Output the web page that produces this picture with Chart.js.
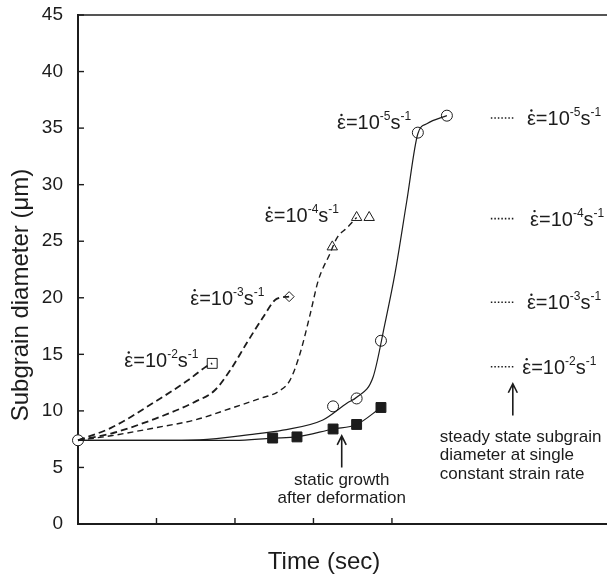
<!DOCTYPE html>
<html>
<head>
<meta charset="utf-8">
<script src="https://cdn.jsdelivr.net/npm/chart.js@4.4.1/dist/chart.umd.min.js"></script>
<style>
  html, body { margin: 0; padding: 0; background: #fff; }
  #wrap { width: 607px; height: 576px; }
</style>
</head>
<body>
<div id="wrap"><canvas id="chart" width="607" height="576"></canvas></div>
<script>
// tick values
const xTickValues = [0, 1, 2, 3, 4];
const yTickStep = 5;

// start point (common to all curves)
const startX = [0];
const startY = [7.4];

// fitted curves
const rate2X = [0, 0.42, 0.98, 1.40, 1.63, 1.71];
const rate2Y = [7.4, 8.5, 10.8, 12.7, 13.9, 14.2];
const rate3X = [0, 0.42, 0.98, 1.49, 1.74, 1.94, 2.15, 2.36, 2.53, 2.69];
const rate3Y = [7.4, 8.0, 9.3, 10.8, 11.8, 13.6, 16.0, 18.3, 19.9, 20.1];
const rate4X = [0, 0.42, 0.98, 1.49, 1.98, 2.32, 2.55, 2.70, 2.83, 2.96, 3.06, 3.21, 3.30, 3.43, 3.55];
const rate4Y = [7.4, 7.8, 8.5, 9.2, 10.3, 11.1, 11.7, 12.7, 15.1, 18.6, 21.5, 23.9, 25.3, 26.2, 27.1];
const rate5X = [0, 1.0, 1.55, 2.19, 2.61, 3.12, 3.43, 3.55, 3.76, 3.91, 4.04, 4.19, 4.33, 4.45, 4.70];
const rate5Y = [7.4, 7.4, 7.45, 7.9, 8.3, 9.2, 10.7, 11.2, 13.0, 17.7, 22.2, 28.6, 34.5, 35.4, 36.1];
const staticX = [0, 1.5, 2.0, 2.48, 2.79, 3.25, 3.55, 3.86];
const staticY = [7.4, 7.4, 7.4, 7.6, 7.7, 8.4, 8.8, 10.3];

// measured points
const rate2MarkX = [1.71];
const rate2MarkY = [14.2];
const rate3MarkX = [2.69];
const rate3MarkY = [20.1];
const rate4MarkX = [3.24, 3.55, 3.71];
const rate4MarkY = [24.5, 27.1, 27.1];
const rate5MarkX = [3.25, 3.55, 3.86, 4.33, 4.70];
const rate5MarkY = [10.4, 11.1, 16.2, 34.6, 36.1];
const staticMarkX = [2.48, 2.79, 3.25, 3.55, 3.86];
const staticMarkY = [7.6, 7.7, 8.4, 8.8, 10.3];

// steady state subgrain diameters (dotted marks at right)
const rateExps = ['-2', '-3', '-4', '-5'];
const steadyY = [13.9, 19.6, 27.0, 35.9];
const steadyDotX = [5.26, 5.56];

const FONT = '"Liberation Sans", Arial, sans-serif';
const INK = '#1c1c1c';

function pts(xs, ys) {
    return xs.map((x, i) => ({ x: x, y: ys[i] }));
}

function curve(xs, ys, dash, width) {
    return {
        data: pts(xs, ys),
        showLine: true,
        borderColor: INK,
        borderWidth: width,
        borderDash: dash,
        pointRadius: 0,
        cubicInterpolationMode: 'monotone',
        clip: false
    };
}

function marks(xs, ys, style, radius, fill) {
    return {
        data: pts(xs, ys),
        showLine: false,
        pointStyle: style,
        pointRadius: radius,
        pointBorderColor: INK,
        pointBackgroundColor: fill,
        pointBorderWidth: 1,
        clip: false
    };
}

const datasets = [
    curve(rate2X, rate2Y, [7, 4], 1.8),
    curve(rate3X, rate3Y, [7, 4], 1.8),
    curve(rate4X, rate4Y, [6, 4], 1.4),
    curve(rate5X, rate5Y, [], 1.2),
    curve(staticX, staticY, [], 1.2),
    marks(startX, startY, 'circle', 5.5, '#fff'),
    marks(rate2MarkX, rate2MarkY, 'rect', 7, '#fff'),
    marks(rate2MarkX, rate2MarkY, 'circle', 1, INK),
    marks(rate3MarkX, rate3MarkY, 'rectRot', 5, '#fff'),
    marks(rate4MarkX, rate4MarkY, 'triangle', 6, '#fff'),
    marks(rate5MarkX, rate5MarkY, 'circle', 5.5, '#fff'),
    marks(staticMarkX, staticMarkY, 'rect', 7, INK)
];

steadyY.forEach(function (v) {
    datasets.push({
        data: steadyDotX.map(x => ({ x: x, y: v })),
        showLine: true,
        borderColor: INK,
        borderWidth: 1.6,
        borderDash: [1.5, 2],
        pointRadius: 0,
        clip: false
    });
});

// label positions in data units (left edge, vertical centre)
const plotLabels = [
    { x: 0.59, y: 14.5, exp: rateExps[0] },
    { x: 1.43, y: 20.0, exp: rateExps[1] },
    { x: 2.38, y: 27.3, exp: rateExps[2] },
    { x: 3.30, y: 35.5, exp: rateExps[3] },
    { x: 5.66, y: steadyY[0], exp: rateExps[0] },
    { x: 5.72, y: steadyY[1], exp: rateExps[1] },
    { x: 5.76, y: steadyY[2], exp: rateExps[2] },
    { x: 5.72, y: steadyY[3], exp: rateExps[3] }
];

// strain rate label: epsilon with a dot, then 10^exp s^-1
function drawRate(ctx, px, py, exp) {
    ctx.textAlign = 'left';
    ctx.textBaseline = 'alphabetic';
    const base = py + 7;
    let cx = px;
    function seg(t, size, dy) {
        ctx.font = size + 'px ' + FONT;
        ctx.fillText(t, cx, base + dy);
        const w = ctx.measureText(t).width;
        cx += w;
        return w;
    }
    const ew = seg('\u03B5', 20, 0);
    ctx.beginPath();
    ctx.arc(px + ew / 2, base - 14.5, 1.2, 0, Math.PI * 2);
    ctx.fill();
    seg('=10', 20, 0);
    seg(exp, 12, -9);
    seg('s', 20, 0);
    seg('-1', 12, -9);
}

function arrow(ctx, px, yTop, yBottom) {
    ctx.beginPath();
    ctx.moveTo(px, yBottom);
    ctx.lineTo(px, yTop);
    ctx.moveTo(px - 4.5, yTop + 9);
    ctx.lineTo(px, yTop);
    ctx.lineTo(px + 4.5, yTop + 9);
    ctx.stroke();
}

const decorations = {
    id: 'decorations',
    afterDraw(chart) {
        const ctx = chart.ctx;
        const xs = chart.scales.x;
        const ys = chart.scales.y;
        const area = chart.chartArea;
        ctx.save();
        ctx.strokeStyle = INK;
        ctx.fillStyle = INK;

        // top frame line
        ctx.lineWidth = 1.5;
        ctx.beginPath();
        ctx.moveTo(area.left, area.top);
        ctx.lineTo(area.right, area.top);
        ctx.stroke();

        // inward tick marks
        ctx.lineWidth = 1.4;
        ys.ticks.forEach(function (t) {
            const py = ys.getPixelForValue(t.value);
            ctx.beginPath();
            ctx.moveTo(area.left, py);
            ctx.lineTo(area.left + 6, py);
            ctx.stroke();
        });
        xs.ticks.forEach(function (t) {
            if (t.value === 0) return;
            const px = xs.getPixelForValue(t.value);
            ctx.beginPath();
            ctx.moveTo(px, area.bottom);
            ctx.lineTo(px, area.bottom - 6);
            ctx.stroke();
        });

        // strain rate labels
        plotLabels.forEach(function (l) {
            drawRate(ctx, xs.getPixelForValue(l.x), ys.getPixelForValue(l.y), l.exp);
        });

        // arrows
        ctx.lineWidth = 1.6;
        arrow(ctx, xs.getPixelForValue(3.36), ys.getPixelForValue(7.8), ys.getPixelForValue(5.0));
        arrow(ctx, xs.getPixelForValue(5.54), ys.getPixelForValue(12.4), ys.getPixelForValue(9.6));

        // notes
        ctx.font = '17px ' + FONT;
        ctx.textBaseline = 'middle';
        ctx.textAlign = 'center';
        const sx = xs.getPixelForValue(3.36);
        ctx.fillText('static growth', sx, ys.getPixelForValue(3.9));
        ctx.fillText('after deformation', sx, ys.getPixelForValue(2.3));
        ctx.textAlign = 'left';
        const nx = xs.getPixelForValue(4.61);
        ctx.fillText('steady state subgrain', nx, ys.getPixelForValue(7.7));
        ctx.fillText('diameter at single', nx, ys.getPixelForValue(6.1));
        ctx.fillText('constant strain rate', nx, ys.getPixelForValue(4.4));

        // axis titles
        ctx.font = '24px ' + FONT;
        ctx.textAlign = 'center';
        ctx.fillText('Time (sec)', 324, 562);
        ctx.translate(21, 295);
        ctx.rotate(-Math.PI / 2);
        ctx.fillText('Subgrain diameter (\u03BCm)', 0, 0);
        ctx.restore();
    }
};

Chart.defaults.font.family = FONT;

new Chart(document.getElementById('chart'), {
    type: 'scatter',
    data: { datasets: datasets },
    plugins: [decorations],
    options: {
        responsive: false,
        animation: false,
        devicePixelRatio: 1,
        layout: { autoPadding: false, padding: { top: 15, left: 0, right: 0, bottom: 0 } },
        plugins: {
            legend: { display: false },
            tooltip: { enabled: false }
        },
        scales: {
            x: {
                type: 'linear',
                min: 0,
                max: 6.74,
                afterBuildTicks: function (scale) {
                    scale.ticks = xTickValues.map(v => ({ value: v }));
                },
                afterFit: function (scale) {
                    scale.height = 52;
                    scale.paddingLeft = 0;
                    scale.paddingRight = 0;
                },
                ticks: { display: false },
                grid: { display: false, drawTicks: false },
                border: { display: true, color: INK, width: 2 }
            },
            y: {
                min: 0,
                max: 45,
                afterFit: function (scale) {
                    scale.width = 78;
                    scale.paddingTop = 0;
                    scale.paddingBottom = 0;
                },
                ticks: {
                    stepSize: yTickStep,
                    padding: 15,
                    color: INK,
                    font: { size: 19 }
                },
                grid: { display: false, drawTicks: false },
                border: { display: true, color: INK, width: 2 }
            }
        }
    }
});
</script>
</body>
</html>
